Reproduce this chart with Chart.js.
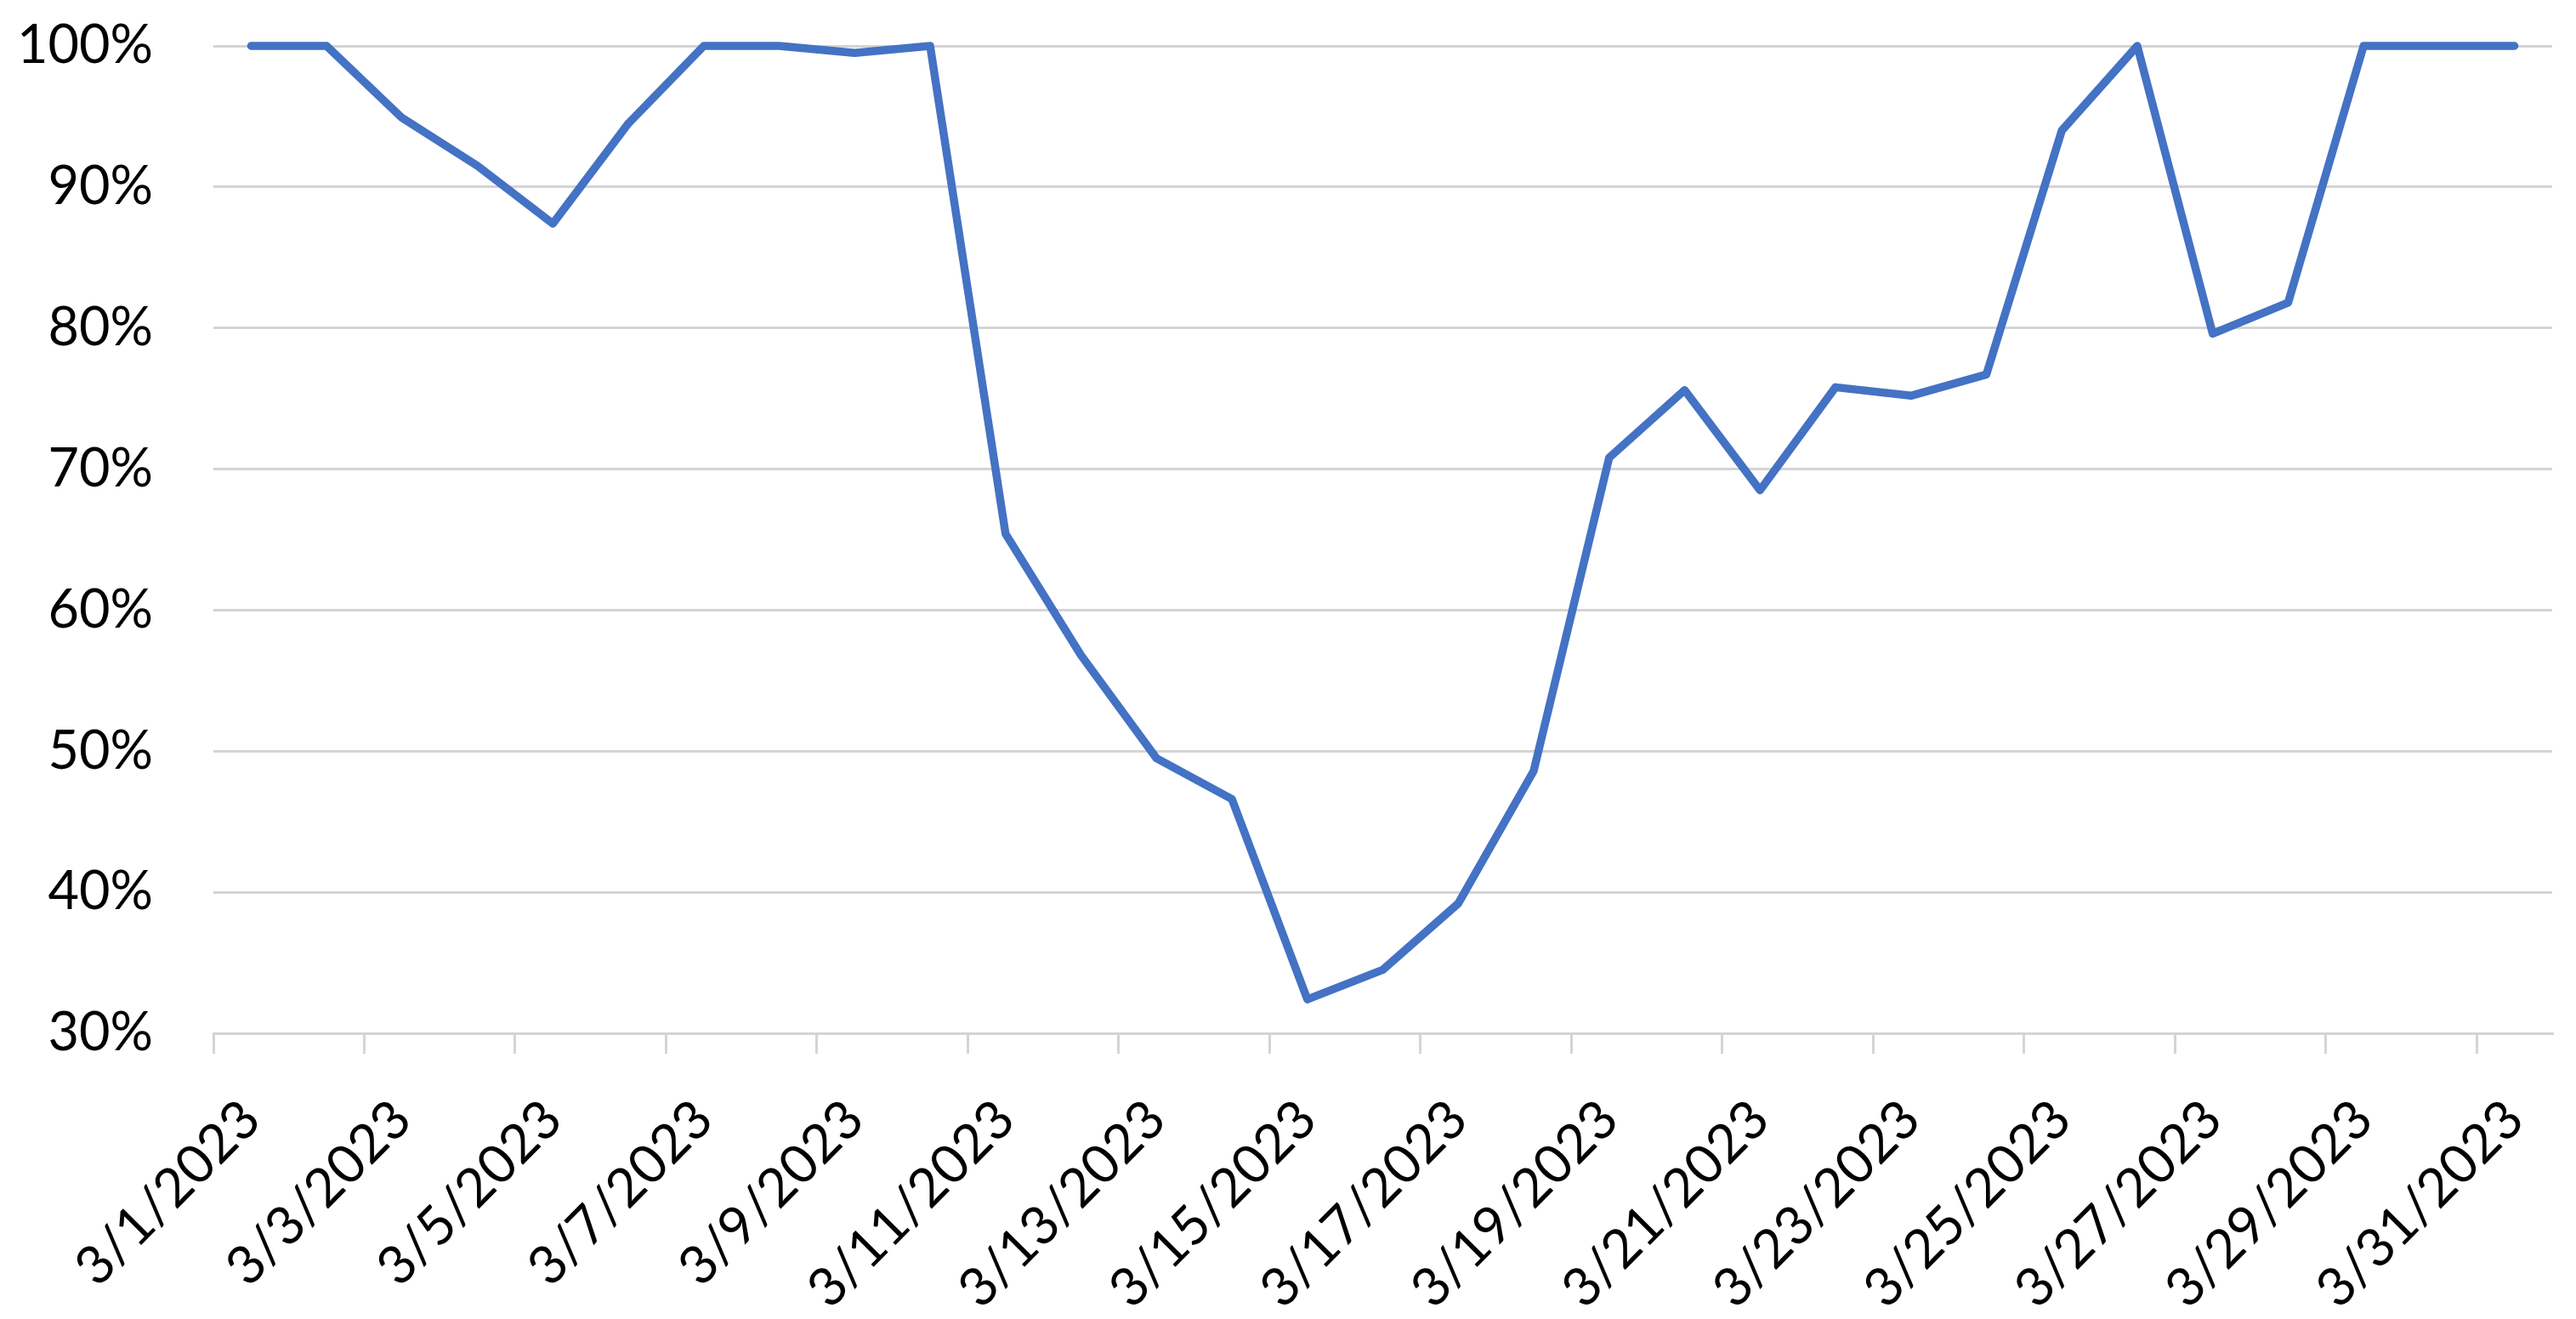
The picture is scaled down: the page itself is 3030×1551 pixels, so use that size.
<!DOCTYPE html>
<html>
<head>
<meta charset="utf-8">
<script src="https://cdn.jsdelivr.net/npm/chart.js@4.4.1/dist/chart.umd.min.js"></script>
<style>
  html, body { margin: 0; padding: 0; background: #fff; }
  #wrap { width: 3030px; height: 1551px; position: relative; }
</style>
</head>
<body>
<div id="wrap"><canvas id="chart"></canvas></div>
<script>
// daily share, March 2023
const days = [
  '3/1/2023', '3/2/2023', '3/3/2023', '3/4/2023', '3/5/2023', '3/6/2023', '3/7/2023', '3/8/2023',
  '3/9/2023', '3/10/2023', '3/11/2023', '3/12/2023', '3/13/2023', '3/14/2023', '3/15/2023', '3/16/2023',
  '3/17/2023', '3/18/2023', '3/19/2023', '3/20/2023', '3/21/2023', '3/22/2023', '3/23/2023', '3/24/2023',
  '3/25/2023', '3/26/2023', '3/27/2023', '3/28/2023', '3/29/2023', '3/30/2023', '3/31/2023'
];
const share = [
  100, 100, 94.9, 91.5, 87.4, 94.5, 100, 100,
  99.5, 100, 65.4, 56.8, 49.5, 46.6, 32.4, 34.5,
  39.2, 48.6, 70.8, 75.6, 68.5, 75.8, 75.2, 76.7,
  94.0, 100, 79.6, 81.8, 100, 100, 100
];
const yTicks = [30, 40, 50, 60, 70, 80, 90, 100];

const gridColor = '#d4d4d4';
const textColor = '#000000';
const font = { family: 'Lato', size: 63 };

new Chart(document.getElementById('chart'), {
  type: 'line',
  data: {
    labels: days,
    datasets: [{
      data: share,
      borderColor: '#4472c4',
      borderWidth: 9.5,
      borderCapStyle: 'round',
      borderJoinStyle: 'round',
      pointRadius: 0,
      tension: 0,
      fill: false,
      clip: false
    }]
  },
  options: {
    responsive: true,
    maintainAspectRatio: false,
    animation: false,
    layout: { padding: { top: 54, right: 28, bottom: 0, left: 0 } },
    plugins: { legend: { display: false }, tooltip: { enabled: false } },
    scales: {
      x: {
        type: 'category',
        offset: true,
        afterFit: s => { s.height = 336; s.paddingLeft = 0; s.paddingRight = 0; },
        grid: {
          offset: true,
          drawOnChartArea: false,
          drawTicks: true,
          tickLength: 24,
          lineWidth: 3,
          // tick marks only between every second day
          color: ctx => (ctx.index % 2 === 0 ? gridColor : 'rgba(0,0,0,0)')
        },
        border: { display: true, color: gridColor, width: 3 },
        ticks: {
          autoSkip: false,
          maxRotation: 45,
          minRotation: 45,
          padding: 40,
          color: textColor,
          font: font,
          callback: (v, i) => (i % 2 === 0 ? days[i] : '')
        }
      },
      y: {
        min: yTicks[0],
        max: yTicks[yTicks.length - 1],
        afterFit: s => { s.width = 251; s.paddingTop = 0; s.paddingBottom = 0; },
        afterBuildTicks: s => { s.ticks = yTicks.map(v => ({ value: v })); },
        grid: { color: gridColor, lineWidth: 3, drawTicks: false },
        border: { display: false },
        ticks: {
          padding: 71,
          color: textColor,
          font: font,
          callback: v => v + '%'
        }
      }
    }
  }
});
</script>
</body>
</html>
